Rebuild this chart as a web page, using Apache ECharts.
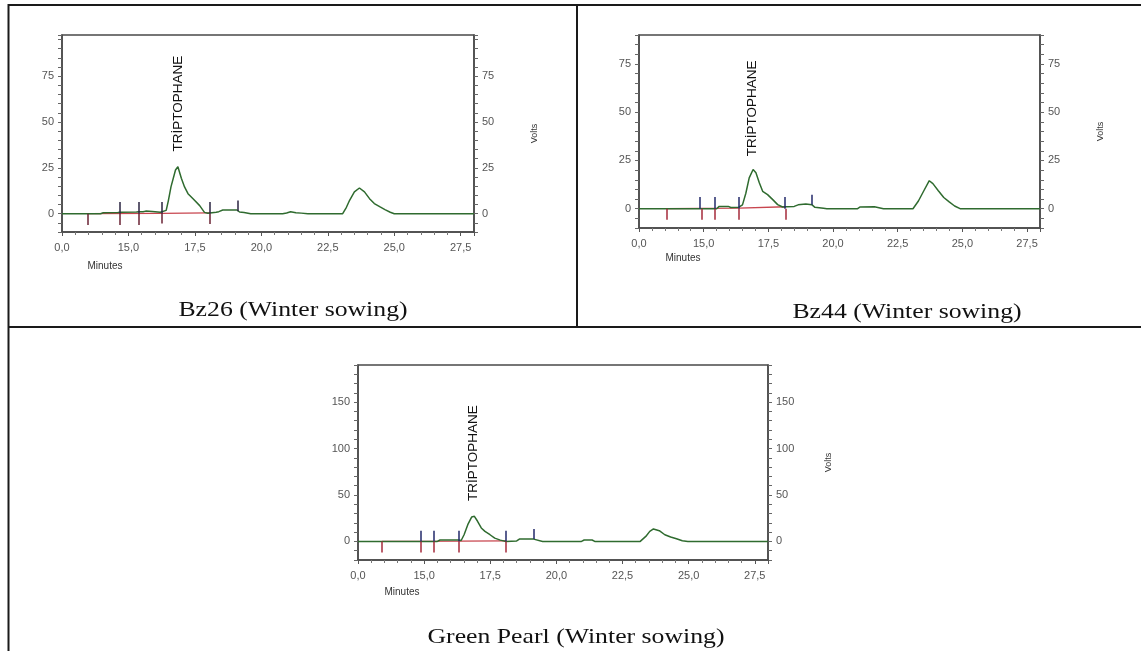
<!DOCTYPE html>
<html><head><meta charset="utf-8">
<script src="https://cdn.jsdelivr.net/npm/echarts@6/dist/echarts.min.js"></script>
<style>html,body{margin:0;padding:0;background:#fff}#c{width:1141px;height:651px}</style>
</head><body><div id="c"></div>
<script>
// ---------- data ----------
const xTickLabels = ["0,0","15,0","17,5","20,0","22,5","25,0","27,5"];
const peakName = "TRİPTOPHANE";
const captions = ["Bz26 (Winter sowing)", "Bz44 (Winter sowing)", "Green Pearl (Winter sowing)"];

// Bz26
const bz26Time  = [12.5,13.95,14.05,14.6,14.7,15.3,15.4,15.55,15.65,15.9,16.2,16.42,16.5,16.6,16.77,16.86,16.99,17.11,17.24,17.43,17.68,17.86,17.99,18.3,18.4,18.55,19.08,19.18,19.35,19.6,20.8,20.95,21.1,21.3,21.5,21.75,23.06,23.2,23.32,23.5,23.69,23.88,24.07,24.25,24.45,24.65,24.85,25.0,28.0];
const bz26Volts = [0,0,0.5,0.6,0.8,0.9,1.0,1.0,1.4,1.2,0.8,1.8,7,14.6,23.8,25.6,19.3,14.6,10.9,8.1,4.4,0.7,0.2,0.8,1.1,2.0,2.0,0.9,0.7,0,0,0.4,1.0,0.5,0.3,0,0,3.5,7.3,11.9,14,11.9,8.2,5.5,3.8,2.2,0.8,0,0];
const bz26BaseTime = [13.45,16.24,18.05];
const bz26BaseVolts = [0,0.2,0.4];
const bz26UpTime = [14.67,15.37,16.24,18.05,19.12];
const bz26UpFrom = [0,0,0,0,1.3];
const bz26UpTo   = [6.4,6.4,6.4,6.4,7.2];
const bz26DownTime = [13.45,14.67,15.37,16.24,18.05];
const bz26DownTo   = [-6.2,-6.2,-6.2,-5.3,-5.6];

// Bz44
const bz44Time  = [12.5,14.35,14.4,14.45,15.5,15.6,15.95,16.05,16.36,16.5,16.63,16.76,16.91,17.02,17.15,17.28,17.47,17.67,17.86,18.05,18.2,18.5,18.65,18.95,19.18,19.3,19.63,19.76,20.95,21.05,21.6,21.95,23.09,23.3,23.51,23.72,23.86,24.07,24.28,24.49,24.7,24.91,28.0];
const bz44Volts = [0,0,0.5,0,0,1.2,1.2,0.6,0.8,2,8,16,20.3,18.6,13.4,9,7.3,4.7,2.1,0.9,1.0,1.2,2.0,2.4,2.1,0.7,0.2,0,0,0.9,1.0,0,0,4,9.3,14.5,13,9.3,5.8,3.5,1.4,0,0];
const bz44BaseTime = [13.56,16.36,18.18];
const bz44BaseVolts = [0,0.3,1.0];
const bz44UpTime = [14.83,15.43,16.36,18.14,19.18];
const bz44UpFrom = [0,0,0,0,2.1];
const bz44UpTo   = [6.1,6.1,6.1,6.1,7.2];
const bz44DownTime = [13.56,14.94,15.43,16.36,18.18];
const bz44DownTo   = [-5.7,-5.7,-5.7,-5.7,-5.7];

// Green Pearl
const gpTime  = [12.5,15.5,15.6,16.3,16.4,16.51,16.65,16.8,16.9,17.02,17.16,17.3,17.49,17.67,17.88,18.1,18.5,18.6,19.04,19.14,19.19,19.48,20.95,21.05,21.35,21.45,23.17,23.38,23.53,23.67,23.89,24.1,24.32,24.54,24.76,24.97,28.0];
const gpVolts = [0,0,1.5,1.5,1.0,7.2,18,26.4,27,21.7,14.5,10.8,7.2,3.6,1.4,0,0.5,2.5,2.5,2.5,1.4,0,0,1.5,1.5,0,0,5.4,10.8,13.4,11.6,7.2,4.7,2.9,0.7,0,0];
const gpBaseTime = [13.41,16.31,18.1];
const gpBaseVolts = [0,0.3,0.6];
const gpUpTime = [14.89,15.36,16.31,18.1,19.14];
const gpUpFrom = [0,0,0,0,2.5];
const gpUpTo   = [11.6,11.6,11.6,11.6,13.5];
const gpDownTime = [13.41,14.89,15.36,16.31,18.1];
const gpDownTo   = [-12,-12,-12,-12,-12];

// ---------- helpers ----------
const SANS = "'Liberation Sans', Arial, sans-serif";
const SERIF = "'Liberation Serif', 'Times New Roman', serif";
const GREEN = '#2f6b2f', BROWN = '#5e4a2c', RED = '#c8464f', NAVY = '#22286a', DRED = '#a52a3a';
const pairs = (t, v) => t.map((x, i) => [x, v[i]]);
const segs = (times, from, to, color) => times.map((t, i) => [
  {coord: [t, from[i]], lineStyle: {color: color, width: 1.5, type: 'solid'}},
  {coord: [t, to[i]]}
]);

const charts = [
  {grid: {left: 62, top: 35, width: 412, height: 197}, yMin: -10, yMax: 97.5, yInt: 5, yStep: 25,
   time: bz26Time, volts: bz26Volts, bt: bz26BaseTime, bv: bz26BaseVolts,
   up: [bz26UpTime, bz26UpFrom, bz26UpTo], down: [bz26DownTime, bz26DownTo],
   upColor: '#2a2340', downColor: '#6a2233', label: [16.86, 60], dark: [[13.4,16.3],[18.0,19.15]]},
  {grid: {left: 639, top: 35, width: 401, height: 193}, yMin: -10, yMax: 90, yInt: 5, yStep: 25,
   time: bz44Time, volts: bz44Volts, bt: bz44BaseTime, bv: bz44BaseVolts,
   up: [bz44UpTime, bz44UpFrom, bz44UpTo], down: [bz44DownTime, bz44DownTo],
   upColor: NAVY, downColor: DRED, label: [16.89, 52], dark: [[14.3,16.4],[18.1,19.2]]},
  {grid: {left: 358, top: 365, width: 410, height: 195}, yMin: -20, yMax: 190, yInt: 10, yStep: 50,
   time: gpTime, volts: gpVolts, bt: gpBaseTime, bv: gpBaseVolts,
   up: [gpUpTime, gpUpFrom, gpUpTo], down: [gpDownTime, gpDownTo],
   upColor: NAVY, downColor: DRED, label: [16.87, 95], dark: [[15.4,16.35],[18.4,19.15]]}
];

const option = {animation: false, grid: [], xAxis: [], yAxis: [], series: [], visualMap: []};

charts.forEach((c, i) => {
  option.grid.push(Object.assign({show: true, borderColor: '#4a4a4a', borderWidth: 1.5, backgroundColor: 'transparent'}, c.grid));
  option.xAxis.push({
    gridIndex: i, type: 'value', min: 12.5, max: 28, interval: 2.5,
    axisLine: {show: true, onZero: false, lineStyle: {color: '#4a4a4a', width: 1.5}},
    axisTick: {show: true, length: 4, lineStyle: {color: '#555'}},
    minorTick: {show: true, splitNumber: 5, length: 3, lineStyle: {color: '#777'}},
    splitLine: {show: false}, minorSplitLine: {show: false},
    axisLabel: {fontSize: 11, fontFamily: SANS, color: '#555', margin: 10,
      formatter: v => { const k = (v - 12.5) / 2.5; const r = Math.round(k); return Math.abs(k - r) < 1e-6 && xTickLabels[r] ? xTickLabels[r] : ''; }}
  });
  const yBase = {
    gridIndex: i, type: 'value', min: c.yMin, max: c.yMax, interval: c.yInt,
    axisLine: {show: true, onZero: false, lineStyle: {color: '#4a4a4a', width: 1.5}},
    axisTick: {show: true, length: 4, lineStyle: {color: '#666'}},
    splitLine: {show: false},
    axisLabel: {fontSize: 11, fontFamily: SANS, color: '#555', margin: 8,
      formatter: v => (v >= 0 && Math.abs(v % c.yStep) < 1e-6) ? String(v) : ''}
  };
  option.yAxis.push(Object.assign({}, yBase, {position: 'left'}));
  option.yAxis.push(Object.assign({}, yBase, {position: 'right', name: 'Volts', nameLocation: 'middle',
    nameRotate: 90, nameGap: 56, nameTextStyle: {fontSize: 9, fontFamily: SANS, color: '#333'}}));

  const sIdx = option.series.length;
  option.series.push({
    type: 'line', xAxisIndex: i, yAxisIndex: 2 * i, data: pairs(c.time, c.volts),
    showSymbol: false, symbol: 'none', silent: true, z: 3,
    lineStyle: {width: 1.5, color: GREEN},
    markPoint: {silent: true, symbol: 'circle', symbolSize: 1, itemStyle: {color: 'rgba(0,0,0,0)'},
      label: {show: true, position: 'inside', rotate: 90, formatter: peakName, fontSize: 13.5,
        fontFamily: SANS, color: '#111'},
      data: [{coord: c.label}]}
  });
  option.visualMap.push({type: 'piecewise', show: false, dimension: 0, seriesIndex: sIdx,
    pieces: c.dark.map(d => ({gte: d[0], lte: d[1], color: BROWN})), outOfRange: {color: GREEN}});
  option.series.push({
    type: 'line', xAxisIndex: i, yAxisIndex: 2 * i, data: pairs(c.bt, c.bv),
    showSymbol: false, symbol: 'none', silent: true, z: 2,
    lineStyle: {width: 1.3, color: RED},
    markLine: {silent: true, symbol: ['none', 'none'], label: {show: false}, animation: false,
      data: segs(c.up[0], c.up[1], c.up[2], c.upColor)
        .concat(segs(c.down[0], c.down[0].map(() => 0), c.down[1], c.downColor))}
  });
});

const line = (x1, y1, x2, y2) => ({type: 'line', silent: true, shape: {x1, y1, x2, y2}, style: {stroke: '#1a1a1a', lineWidth: 2}});
const txt = (x, y, text, font, sx) => ({type: 'text', silent: true, x, y, scaleX: sx,
  style: {text, font, fill: '#111', align: 'center', verticalAlign: 'middle', textAlign: 'center', textVerticalAlign: 'middle'}});

option.graphic = [
  line(8, 5, 1141, 5),
  line(8.5, 4, 8.5, 651),
  line(577, 5, 577, 327),
  line(8, 327, 1141, 327),
  txt(293, 310, captions[0], "22px " + SERIF, 1.17),
  txt(907, 312.5, captions[1], "22px " + SERIF, 1.17),
  txt(576, 637, captions[2], "22px " + SERIF, 1.17),
  Object.assign(txt(105, 266, 'Minutes', "10px " + SANS, 1), {style: {text: 'Minutes', font: "10px " + SANS, fill: '#333', align: 'center', verticalAlign: 'middle'}}),
  Object.assign(txt(683, 258, 'Minutes', "10px " + SANS, 1), {style: {text: 'Minutes', font: "10px " + SANS, fill: '#333', align: 'center', verticalAlign: 'middle'}}),
  Object.assign(txt(402, 592, 'Minutes', "10px " + SANS, 1), {style: {text: 'Minutes', font: "10px " + SANS, fill: '#333', align: 'center', verticalAlign: 'middle'}})
];

const chart = echarts.init(document.getElementById('c'), null, {renderer: 'canvas'});
chart.setOption(option);
</script>
</body></html>
